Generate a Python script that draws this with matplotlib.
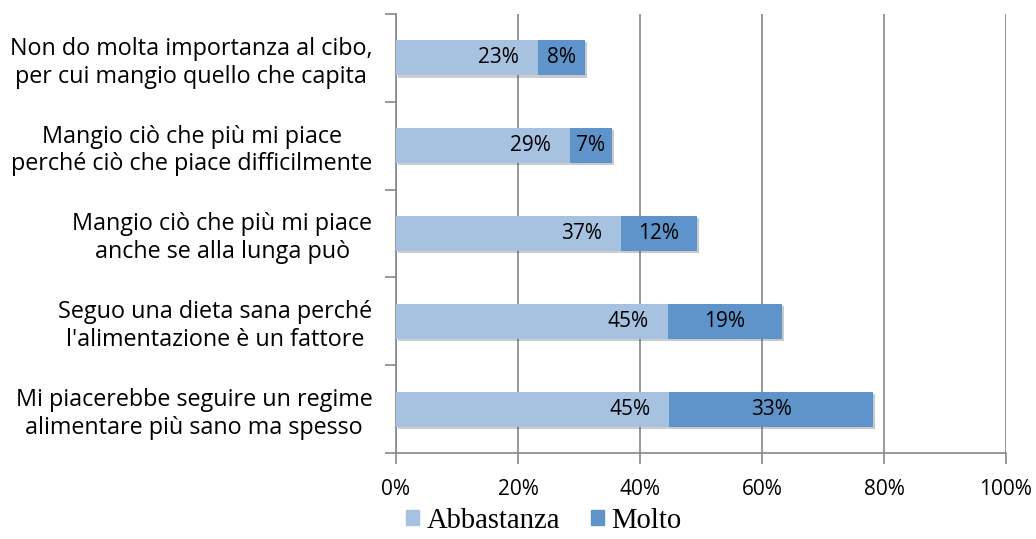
import matplotlib
matplotlib.use("Agg")
import matplotlib.pyplot as plt
import matplotlib.patheffects as pe
from matplotlib.patches import Patch
import numpy as np

# Dati (percentuali)
categorie = [
    "Mi piacerebbe seguire un regime\nalimentare più sano ma spesso",
    "Seguo una dieta sana perché\nl'alimentazione è un fattore",
    "Mangio ciò che più mi piace\nanche se alla lunga può",
    "Mangio ciò che più mi piace\nperché ciò che piace difficilmente",
    "Non do molta importanza al cibo,\nper cui mangio quello che capita",
]
abbastanza = [44.8, 44.6, 36.9, 28.5, 23.3]
molto = [33.4, 18.7, 12.4, 6.9, 7.7]
etichette_abb = ["45%", "45%", "37%", "29%", "23%"]
etichette_molto = ["33%", "19%", "12%", "7%", "8%"]

COL_ABB = "#A7C1E0"
COL_MOLTO = "#5F94CA"
SANS = "Open Sans"

fig = plt.figure(figsize=(10.36, 5.39), dpi=100)
ax = fig.add_axes([0.3822, 0.1596, 0.5888, 0.8144])

y = np.arange(len(categorie))
ombra = [pe.SimplePatchShadow(offset=(1.5, -1.5), alpha=0.25), pe.Normal()]
b1 = ax.barh(y, abbastanza, height=0.4, color=COL_ABB, zorder=3)
b2 = ax.barh(y, molto, left=abbastanza, height=0.4, color=COL_MOLTO, zorder=3)
for b in list(b1) + list(b2):
    b.set_path_effects(ombra)

for i in range(len(categorie)):
    ax.annotate(etichette_abb[i], (abbastanza[i], y[i]), xytext=(-19, 0),
                textcoords="offset pixels", ha="right", va="center",
                fontsize=15, family=SANS, zorder=4)
    ax.text(abbastanza[i] + molto[i] / 2, y[i], etichette_molto[i],
            ha="center", va="center", fontsize=15, family=SANS, zorder=4)

ax.set_xlim(0, 100)
ax.set_ylim(-0.5, len(categorie) - 0.5)
ax.set_xticks(np.arange(0, 101, 20))
ax.set_xticklabels([f"{v}%" for v in range(0, 101, 20)], family=SANS, fontsize=15)
ax.set_yticks(np.arange(-0.5, len(categorie), 1))
ax.set_yticklabels([])
ax.set_yticks(y, minor=True)
ax.set_yticklabels(categorie, minor=True, family=SANS, fontsize=16.8,
                   multialignment="center", linespacing=1.2)
ax.tick_params(axis="y", which="minor", length=0, pad=17)
ax.tick_params(axis="y", which="major", length=8, color="#878787", width=1.2)
ax.tick_params(axis="x", length=8, color="#878787", width=1.2, pad=11)

ax.xaxis.grid(True, color="#878787", linewidth=1.2, zorder=0)
for s in ["top", "right"]:
    ax.spines[s].set_visible(False)
for s in ["left", "bottom"]:
    ax.spines[s].set_color("#878787")
    ax.spines[s].set_linewidth(1.2)

handles = [Patch(color=COL_ABB, label="Abbastanza"), Patch(color=COL_MOLTO, label="Molto")]
fig.legend(handles=handles, loc="center", bbox_to_anchor=(0.525, 0.034), ncol=2,
           frameon=False, prop={"family": "Liberation Serif", "size": 20.6},
           handlelength=0.45, handleheight=0.45, handletextpad=0.25, columnspacing=1.1,
           borderpad=0.2)

fig.savefig("out.png", dpi=100)
